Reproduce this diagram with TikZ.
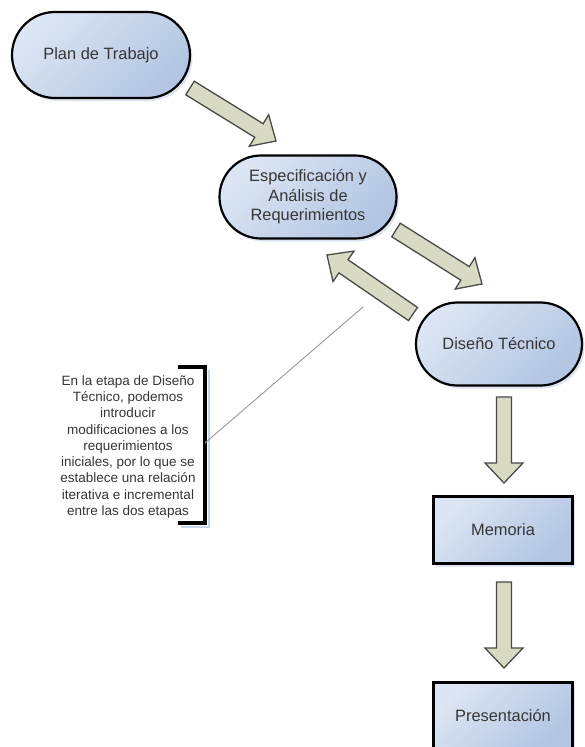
\documentclass[tikz,border=0pt]{standalone}
\usepackage{fontspec}
\setmainfont{Liberation Sans}
\usetikzlibrary{shapes.misc,calc,shadows}

\definecolor{nodeLight}{HTML}{DCE5F3}
\definecolor{nodeDark}{HTML}{B2C5E2}
\definecolor{arrowFill}{HTML}{D8DAC3}
\definecolor{arrowLine}{HTML}{4A4A48}
\definecolor{textGray}{HTML}{363636}
\definecolor{shadowBlue}{HTML}{C9D5E8}

\tikzset{
  stage/.style={
    draw=black, line width=2.2pt,
    top color=nodeLight, bottom color=nodeDark, shading angle=45,
    drop shadow={shadow xshift=2.5pt, shadow yshift=-3pt, fill=shadowBlue, opacity=0.6},
    text=textGray, align=center, inner sep=0pt,
    font=\fontsize{16.4}{19.5}\selectfont
  },
  phase/.style={stage, rounded rectangle},
  docbox/.style={stage, rectangle, minimum width=139pt, minimum height=67pt},
  blockarrow/.style={draw=arrowLine, fill=arrowFill, line width=1.3pt, line join=miter},
  bracket/.style={draw=black, line width=3.2pt},
  leader/.style={draw=gray!80, line width=0.9pt},
  notetext/.style={text=textGray, align=center, inner sep=0pt,
    font=\fontsize{13.5}{16.25}\selectfont}
}

% block arrow from tail #1 to tip #2: shaft half width #3, head half width #4
\newcommand\blockarrow[4]{%
  \path ($(#2)!20pt!(#1)$) coordinate (ba-base);
  \draw[blockarrow]
    ($(#1)!#3!90:(#2)$) -- ($(ba-base)!#3!90:(#2)$) -- ($(ba-base)!#4!90:(#2)$)
    -- (#2)
    -- ($(ba-base)!#4!-90:(#2)$) -- ($(ba-base)!#3!-90:(#2)$) -- ($(#1)!#3!-90:(#2)$)
    -- cycle;
}

\begin{document}
\begin{tikzpicture}[x=1pt,y=-1pt]
\useasboundingbox (0,0) rectangle (584,747);
\fill[white] (0,0) rectangle (584,747);

% stages of the process
\node[phase, minimum width=178pt, minimum height=86pt] (plan) at (101,55) {Plan de Trabajo};
\node[phase, minimum width=177pt, minimum height=83pt] (espec) at (308,197)
  {Especificación y\\Análisis de\\Requerimientos};
\node[phase, minimum width=166pt, minimum height=83pt] (diseno) at (499,344) {Diseño Técnico};
\node[docbox] (memoria) at (503,530) {Memoria};
\node[docbox] (present) at (503,716) {Presentación};

% arrow end points
\coordinate (a1t) at (190,88);  \coordinate (a1h) at (276,141);
\coordinate (a2t) at (396,230); \coordinate (a2h) at (482,284);
\coordinate (a3t) at (413,314); \coordinate (a3h) at (327,255);
\coordinate (a4t) at (504,397); \coordinate (a4h) at (504,483);
\coordinate (a5t) at (504,582); \coordinate (a5h) at (504,668);

\blockarrow{a1t}{a1h}{8pt}{18.5pt}
\blockarrow{a2t}{a2h}{8pt}{18.5pt}
\blockarrow{a3t}{a3h}{8pt}{18.5pt}
\blockarrow{a4t}{a4h}{7.5pt}{19pt}
\blockarrow{a5t}{a5h}{7.5pt}{19pt}

% annotation with bracket and leader line
\node[notetext] (nota) at (128,447)
  {En la etapa de Diseño\\Técnico, podemos\\introducir\\modificaciones a los\\requerimientos\\iniciales, por lo que se\\establece una relación\\iterativa e incremental\\entre las dos etapas};
\coordinate (brTop) at (178,367);
\coordinate (brBot) at (178,523);
\coordinate (brMid) at (205,443);
\coordinate (notaTip) at (363,307);
\draw[shadowBlue, line width=2pt] (209,370) -- (209,527) -- (181,527);
\draw[bracket] (brTop) -- (205,367) -- (205,523) -- (brBot);
\draw[leader] (brMid) -- (notaTip);
\end{tikzpicture}
\end{document}
